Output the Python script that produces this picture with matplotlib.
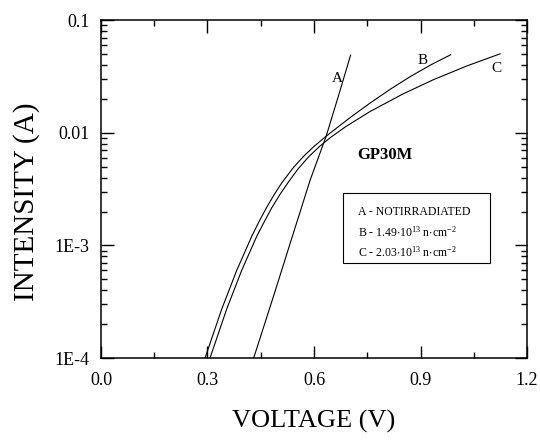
import numpy as np
import matplotlib
matplotlib.use("Agg")
import matplotlib.pyplot as plt
from matplotlib.patches import Rectangle
from matplotlib.ticker import FixedLocator, LogLocator, FuncFormatter, MultipleLocator

plt.rcParams["font.family"] = ["Liberation Serif", "DejaVu Serif"]
plt.rcParams["mathtext.fontset"] = "custom"
plt.rcParams["mathtext.rm"] = "Liberation Serif"
plt.rcParams["mathtext.default"] = "regular"

# I-V curves (V in volts, I in amps)
A_volt = [0.430, 0.485, 0.537, 0.589, 0.634, 0.670, 0.703]
A_amp = [1.0e-4, 3.47e-4, 1.15e-3, 3.8e-3, 9.3e-3, 0.0219, 0.049]

B_volt = [0.293, 0.340, 0.382, 0.425, 0.445, 0.466, 0.488, 0.509, 0.540, 0.570, 0.600,
          0.636, 0.700, 0.758, 0.815, 0.870, 0.930, 0.985]
B_amp = [1.0e-4, 2.72e-4, 5.98e-4, 1.213e-3, 1.626e-3, 2.163e-3, 2.838e-3, 3.589e-3,
         4.842e-3, 6.166e-3, 7.586e-3, 9.44e-3, 0.01355, 0.01841, 0.02443, 0.03148,
         0.04036, 0.04943]

C_volt = [0.307, 0.354, 0.396, 0.439, 0.460, 0.481, 0.504, 0.526, 0.555, 0.585, 0.615,
          0.645, 0.690, 0.758, 0.850, 0.936, 1.030, 1.124]
C_amp = [1.0e-4, 2.72e-4, 5.98e-4, 1.213e-3, 1.626e-3, 2.163e-3, 2.838e-3, 3.589e-3,
         4.786e-3, 6.138e-3, 7.551e-3, 9.036e-3, 0.0114, 0.01549, 0.02213, 0.02965,
         0.03926, 0.05035]

x_ticks = [0.0, 0.3, 0.6, 0.9, 1.2]
y_ticks = [1e-4, 1e-3, 1e-2, 1e-1]
y_labels = {1e-4: "1E-4", 1e-3: "1E-3", 1e-2: "0.01", 1e-1: "0.1"}

legend_lines = [
    "A - NOTIRRADIATED",
    r"B - 1.49$\cdot$10$^{13}$ n$\cdot$cm$^{-2}$",
    r"C - 2.03$\cdot$10$^{13}$ n$\cdot$cm$^{-2}$",
]

fig = plt.figure(figsize=(5.4, 4.41), dpi=100)
ax = fig.add_axes([0.187, 0.188, 0.789, 0.766])

for v, i in [(A_volt, A_amp), (B_volt, B_amp), (C_volt, C_amp)]:
    ax.plot(v, i, color="black", linewidth=0.8)

ax.set_yscale("log")
ax.set_xlim(0.0, 1.2)
ax.set_ylim(1e-4, 0.1)

ax.xaxis.set_major_locator(FixedLocator(x_ticks))
ax.xaxis.set_minor_locator(MultipleLocator(0.15))
ax.xaxis.set_major_formatter(FuncFormatter(lambda v, p: f"{v:.1f}"))
ax.yaxis.set_major_locator(FixedLocator(y_ticks))
ax.yaxis.set_minor_locator(LogLocator(base=10, subs=np.arange(2, 10)))
ax.yaxis.set_major_formatter(FuncFormatter(lambda v, p: y_labels.get(round(v, 6), "")))
ax.yaxis.set_minor_formatter(FuncFormatter(lambda v, p: ""))

ax.tick_params(which="both", direction="in", top=True, right=True, width=1.0)
ax.tick_params(which="major", length=9)
ax.tick_params(which="minor", length=4.5)
ax.tick_params(axis="x", which="major", pad=10, labelsize=13)
ax.tick_params(axis="y", which="major", pad=8, labelsize=13)
for s in ax.spines.values():
    s.set_linewidth(1.1)

ax.set_xlabel("VOLTAGE (V)", fontsize=19)
ax.set_ylabel("INTENSITY (A)", fontsize=21)
ax.xaxis.set_label_coords(0.5, -0.154)
ax.yaxis.set_label_coords(-0.143, 0.462)

# curve letters
ax.text(0.665, 0.0305, "A", fontsize=11, ha="center", va="center")
ax.text(0.907, 0.0441, "B", fontsize=11, ha="center", va="center")
ax.text(1.113, 0.0375, "C", fontsize=11, ha="center", va="center")

ax.text(0.80, 0.00634, "GP30M", fontsize=12, fontweight="bold", ha="center", va="center")

# legend box
ax.add_patch(Rectangle((0.568, 0.281), 0.345, 0.207, transform=ax.transAxes,
                       fill=False, edgecolor="black", linewidth=0.8))
for k, line in enumerate(legend_lines):
    ax.text(0.603, 0.432 - k * 0.059, line, transform=ax.transAxes,
            fontsize=8.5, ha="left", va="center")

fig.savefig("out.png", dpi=100)
